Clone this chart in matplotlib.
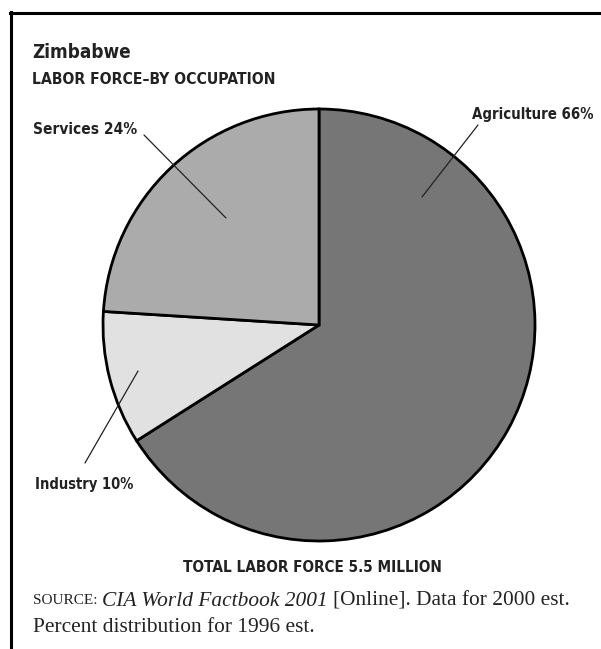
import matplotlib
matplotlib.use("Agg")
import matplotlib.pyplot as plt
from matplotlib.lines import Line2D
from matplotlib import font_manager as fm

# data
sectors = ["Agriculture", "Industry", "Services"]
shares = [66, 10, 24]
colors = ["#767676", "#e1e1e1", "#ababab"]

title = "Zimbabwe"
subtitle = "LABOR FORCE\u2013BY OCCUPATION"
total_label = "TOTAL LABOR FORCE 5.5 MILLION"
source_parts = ["SOURCE:", "CIA World Factbook 2001", "[Online]. Data for 2000 est."]
source_line2 = "Percent distribution for 1996 est."

W, H = 601, 649
INK = "#222222"
SERIF = ["Liberation Serif", "DejaVu Serif"]

# prefer a condensed bold sans if one is installed
cond = fm.findfont(fm.FontProperties(family="DejaVu Sans", stretch="condensed",
                                     weight="bold"))
if "Condensed" in cond:
    SANS = dict(family="DejaVu Sans", stretch="condensed")
else:
    SANS = dict(family=["Liberation Sans", "DejaVu Sans"])


def fx(x):
    return x / W


def fy(y):
    return 1 - y / H


fig = plt.figure(figsize=(W / 100, H / 100), dpi=100)
renderer = fig.canvas.get_renderer()


def fit_text(x, y, s, width, ha="left", **kw):
    # put text at pixel (x, y) and scale its size to the given pixel width
    t = fig.text(fx(x), fy(y), s, ha=ha, va="center", fontsize=12, **kw)
    w = t.get_window_extent(renderer).width
    t.set_fontsize(12 * width / w)
    return t


# frame lines (top and left only)
fig.add_artist(Line2D([fx(10), fx(601)], [fy(13), fy(13)], color="black", lw=2.2))
fig.add_artist(Line2D([fx(11), fx(11)], [fy(12), fy(649)], color="black", lw=2.2))

# pie axes: centre (319, 325), radius 216 px
cx, cy, r = 319, 325, 216
ax = fig.add_axes([fx(cx - r), fy(cy + r), 2 * r / W, 2 * r / H])
wedges, _ = ax.pie(shares, colors=colors, startangle=90, counterclock=False,
                   wedgeprops=dict(edgecolor="black", linewidth=2))
for w in wedges:
    w.set_clip_on(False)
ax.set_xlim(-1, 1)
ax.set_ylim(-1, 1)
ax.set_aspect("equal")
ax.axis("off")


def d(px, py):
    # pixel position -> pie data coords
    return ((px - cx) / r, (cy - py) / r)


# label text, anchor pixel, halign, width px, leader start, leader end
labels = [
    (f"{sectors[0]} {shares[0]}%", (593, 114), "right", 121, (478, 125), (422, 197)),
    (f"{sectors[2]} {shares[2]}%", (33, 129), "left", 104, (144, 135), (226, 218)),
    (f"{sectors[1]} {shares[1]}%", (35, 484), "left", 98, (85, 463), (138, 371)),
]
for txt, tpos, ha, wpx, p0, p1 in labels:
    fit_text(tpos[0], tpos[1], txt, wpx, ha=ha, weight="bold", color=INK, **SANS)
    ax.annotate("", xy=d(*p1), xytext=d(*p0), xycoords="data",
                arrowprops=dict(arrowstyle="-", color=INK, lw=0.9,
                                shrinkA=0, shrinkB=0),
                annotation_clip=False)

fit_text(32, 52, title, 98, weight="bold", color=INK, **SANS)
fit_text(32, 79, subtitle, 244, weight="bold", color=INK, **SANS)
fit_text(312, 567, total_label, 260, ha="center", weight="bold", color=INK, **SANS)

# source note, pieces laid out one after another
x = 33
sizes = [11, 15.4, 15.4]
styles = ["normal", "italic", "normal"]
for part, fs, st in zip(source_parts, sizes, styles):
    t = fig.text(fx(x), fy(601), part, ha="left", va="center", family=SERIF,
                 style=st, fontsize=fs, color=INK)
    x = t.get_window_extent(renderer).x1 + 5
fig.text(fx(33), fy(627), source_line2, ha="left", va="center", family=SERIF,
         fontsize=15.4, color=INK)

fig.savefig("out.png", dpi=100)
